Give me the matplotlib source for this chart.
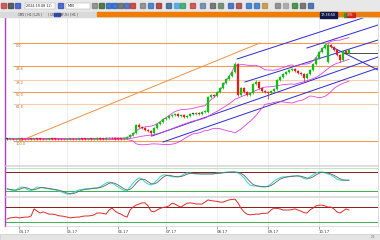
import matplotlib
matplotlib.use("Agg")
import matplotlib.pyplot as plt
from matplotlib.patches import Rectangle
import numpy as np
import pandas as pd

# Data
# closes per bar, flat base first, then the rally
closes = [26.0, 26.3, 25.9, 26.1, 26.4, 26.0, 25.8, 26.2, 26.1, 26.5,
          26.2, 26.0, 25.9, 26.1, 26.3, 26.2, 26.0, 25.8, 25.7, 25.9,
          26.0, 26.1, 25.9, 26.0, 26.2, 26.1, 26.0, 26.3, 26.2, 26.4,
          26.6, 26.5, 26.4, 26.8, 27.0, 26.7, 26.5, 26.4, 26.2, 26.6,
          28, 30, 32, 40, 38, 37, 35, 34, 32, 37,
          41, 43, 46, 47, 49, 50, 51, 49, 50, 48,
          49, 51, 51, 52, 51, 53, 54, 68, 70, 69,
          73, 77, 82, 86, 89, 93, 101, 70, 77, 73,
          70, 72, 81, 83, 77, 74, 73, 72, 74, 76,
          85, 88, 91, 93, 95, 96, 94, 92, 91, 87,
          91, 95, 101, 107, 113, 117, 120, 120, 118, 115,
          110, 105, 114, 112, 115]
open_fix = {67: 53, 107: 103}
high_fix = {44: 42, 76: 103, 83: 85, 106: 122, 107: 122}
low_fix = {48: 29, 87: 66, 99: 84, 111: 103}

stoch_k = [28, 25, 22, 25, 31, 34, 31, 25, 22, 28,
           34, 32, 31, 29, 28, 26, 25, 22, 19, 15,
           12, 12, 16, 21, 25, 26, 28, 28, 29, 31,
           31, 34, 40, 46, 49, 46, 40, 34, 28, 23,
           22, 34, 46, 55, 62, 58, 49, 43, 40, 46,
           55, 65, 71, 71, 68, 65, 65, 65, 68, 74,
           77, 77, 75, 74, 74, 74, 74, 74, 74, 75,
           77, 77, 78, 80, 80, 80, 80, 77, 71, 62,
           49, 40, 37, 37, 35, 34, 34, 37, 43, 52,
           58, 62, 65, 65, 66, 68, 68, 68, 65, 60,
           58, 65, 71, 77, 80, 80, 77, 74, 71, 65,
           58, 55, 54, 55, 55]

rsi = [38, 41, 42, 43, 41, 42, 43, 43, 46, 65,
       59, 54, 57, 54, 51, 51, 50, 47, 46, 45,
       43, 41, 42, 43, 43, 45, 46, 46, 47, 49,
       54, 54, 53, 51, 62, 67, 59, 54, 51, 46,
       43, 62, 70, 75, 78, 81, 81, 73, 59, 57,
       62, 66, 69, 70, 73, 80, 78, 73, 70, 75,
       80, 81, 80, 78, 78, 78, 83, 89, 87, 86,
       85, 83, 83, 86, 89, 90, 91, 81, 67, 57,
       51, 49, 50, 51, 51, 53, 53, 54, 62, 67,
       66, 65, 62, 62, 62, 63, 65, 62, 59, 55,
       54, 62, 67, 73, 75, 75, 73, 70, 70, 65,
       57, 54, 59, 65, 62]

fib_low, fib_high = 24, 122
fib_ratios = [0.0, 0.236, 0.382, 0.5, 0.618, 1.0]
fib_labels = ["0.0", "23.6", "38.2", "50.0", "61.8", "100.0"]
fib_faint = [0.382, 0.618]

# drawn trend lines: (bar0, price0, bar1, price1)
orange_line = (4.3, 24, 84.3, 122)
blue_lines = [(76.7, 106, 123.7, 152), (100, 117, 123.7, 140), (79.3, 83, 123.7, 125),
              (48.3, 29, 123.7, 108), (52, 23, 123.7, 97)]
down_line = (107.7, 119, 123.7, 95)
flat_line = (112, 112, 123.7, 112)

date_pos = [4, 20, 37, 53, 70, 87, 104]
date_labels = ["04.17", "05.17", "06.17", "07.17", "08.17", "09.17", "10.17"]

# OHLC
n = len(closes)
x = np.arange(n)
c = np.array(closes, float)
o = np.r_[c[0], c[:-1]]
for k, v in open_fix.items():
    o[k] = v
h = np.maximum(o, c) + 1.0
l = np.minimum(o, c) - 1.0
for k, v in high_fix.items():
    h[k] = v
for k, v in low_fix.items():
    l[k] = v

s = pd.Series(c)
mid = s.rolling(20, min_periods=1).mean()
sd = s.rolling(20, min_periods=1).std(ddof=0)
stoch_d = pd.Series(stoch_k).rolling(3, min_periods=1).mean()

# Layout
W, H = 380, 240
def box(left, top, right, bottom):
    return [left / W, 1 - bottom / H, (right - left) / W, (bottom - top) / H]

fig = plt.figure(figsize=(3.8, 2.4), dpi=100)
ax = fig.add_axes(box(5, 17, 378, 165))
ax1 = fig.add_axes(box(5, 166, 378, 196), sharex=ax)
ax2 = fig.add_axes(box(5, 197, 378, 226), sharex=ax)
xmax = 123.7

for a in (ax, ax1, ax2):
    a.set_xlim(-0.7, xmax)
    for sp in a.spines.values():
        sp.set_color("#d0d0d0")
        sp.set_linewidth(0.5)
    a.spines["left"].set_color("#b040c0")
    a.spines["left"].set_linewidth(1.0)
    a.set_yticks([])
    a.tick_params(axis="x", length=0, labelbottom=False)
    for p in date_pos:
        a.axvline(p, color="#e6e6e6", lw=0.5, zorder=0)
ax.spines["top"].set_visible(False)

# main chart
ax.set_ylim(0, 148)
for r, lab in zip(fib_ratios, fib_labels):
    lev = fib_high - r * (fib_high - fib_low)
    al = 0.45 if r in fib_faint else 0.9
    ax.hlines(lev, 2, xmax, color="#f09040", lw=0.8, alpha=al, zorder=1)
    ax.text(3, lev - 1, lab, fontsize=2.5, color="#b07030", va="top", zorder=2)

ax.plot(orange_line[::2], orange_line[1::2], color="#f09040", lw=0.7, zorder=2)
for bl in blue_lines:
    ax.plot(bl[::2], bl[1::2], color="#2a2ad0", lw=0.7, zorder=2)
ax.plot(down_line[::2], down_line[1::2], color="#2a2ad0", lw=0.7, zorder=2)
ax.plot(flat_line[::2], flat_line[1::2], color="#303030", lw=0.6, zorder=2)

bb_col = "#e040e0"
ax.plot(x, mid + 2 * sd, color=bb_col, lw=0.6, zorder=3)
ax.plot(x, mid, color=bb_col, lw=0.6, zorder=3)
ax.plot(x, mid - 2 * sd, color=bb_col, lw=0.6, zorder=3)

cols = np.where(c > o, "#10c010", np.where(c < o, "#e02020", "#404040"))
ax.vlines(x, l, h, colors=cols, lw=0.5, zorder=4)
ax.bar(x, np.maximum(np.abs(c - o), 0.6), bottom=np.minimum(o, c), width=0.65,
       color=cols, edgecolor=cols, linewidth=0.2, zorder=5)

# stochastic panel
ax1.set_ylim(6, 98.5)
ax1.axhline(92, color="#b8e0b8", lw=0.6)
ax1.axhline(80, color="#8b1a1a", lw=0.7)
ax1.axhline(20, color="#3cb050", lw=0.7)
ax1.plot(x, stoch_k, color="#30d8c8", lw=0.7)
ax1.plot(x, stoch_d, color="#606060", lw=0.6)

# rsi panel
ax2.set_ylim(19.3, 96.7)
ax2.axhline(70, color="#8b1a1a", lw=0.7)
ax2.axhline(30, color="#3cb050", lw=0.7)
ax2.plot(x, rsi, color="#e02828", lw=0.7)
ax2.set_xticks(date_pos)
ax2.set_xticklabels(date_labels, fontsize=2.8, color="#404040", ha="left")
ax2.tick_params(axis="x", length=2, width=0.4, color="#606060", pad=1, labelbottom=True)

# window chrome (toolbar, tabs, status)
ui = fig.add_axes([0, 0, 1, 1], zorder=10)
ui.set_xlim(0, W)
ui.set_ylim(H, 0)
ui.axis("off")
ui.patch.set_alpha(0)
ui.add_patch(Rectangle((0, 0), W, 11.5, color="#e8e8e8"))
ui.add_patch(Rectangle((0, 11.5), W, 5.5, color="#dadada"))
ui.add_patch(Rectangle((97, 12.2), W - 97, 4.3, color="#f07d00"))
icons = [(1, "#c04040"), (8, "#404040"), (15, "#3050c0"), (58, "#3050c0"), (92, "#808080"),
         (99, "#306030"), (106, "#2060c0"), (112, "#2060c0"), (118, "#606060"),
         (124, "#4060b0"), (130, "#c03030"), (140, "#808080"), (148, "#3070c0"),
         (156, "#a03030"), (166, "#306090"), (174, "#40a0e0"), (180, "#30a060"),
         (190, "#c04040"), (200, "#6080a0"), (210, "#606060"), (218, "#608060"),
         (228, "#3060c0"), (236, "#a04040"), (246, "#3070c0"), (254, "#3070c0"),
         (262, "#c09030"), (275, "#808080"), (283, "#a0a0a0"), (292, "#308030"),
         (300, "#606060"), (308, "#3060a0")]
for ix, ic in icons:
    ui.add_patch(Rectangle((ix, 3), 5, 5, color=ic, alpha=0.8))
ui.add_patch(Rectangle((25, 2.5), 30, 6.5, facecolor="white", edgecolor="#a0a0a0", lw=0.3))
ui.text(26, 5.8, "2024.10.08 12:", fontsize=2.4, va="center", color="#202020")
ui.add_patch(Rectangle((66, 2.5), 24, 6.5, facecolor="white", edgecolor="#a0a0a0", lw=0.3))
ui.text(68, 5.8, "M30", fontsize=2.4, va="center", color="#202020")
ui.text(18, 14.4, "1M5 | H1 | L25 |      | (20,2)(AF,%) | H1 |", fontsize=2.2,
        va="center", color="#303030")
ui.add_patch(Rectangle((54, 12.6), 6, 3.6, color="#3050c0"))
ui.add_patch(Rectangle((320, 12), 17, 6, color="#101848"))
ui.text(328.5, 15, "17:38:50", fontsize=2.4, color="white", ha="center", va="center")
ui.add_patch(Rectangle((343.5, 12.5), 3, 4.5, color="#20a020"))
ui.add_patch(Rectangle((346.5, 12.5), 8, 4.5, color="#d02020"))
ui.text(350.5, 14.8, "33%", fontsize=2.2, color="white", ha="center", va="center")
ui.text(357, 14.8, "1.7  2.1", fontsize=2.4, color="#909090", va="center")
ui.add_patch(Rectangle((0, 234), W, 6, facecolor="#e4e4e4", edgecolor="#c0c0c0", lw=0.4))
ui.text(376, 237, "2.1", fontsize=2.2, color="#606060", ha="right", va="center")

fig.savefig("out.png", dpi=100)
